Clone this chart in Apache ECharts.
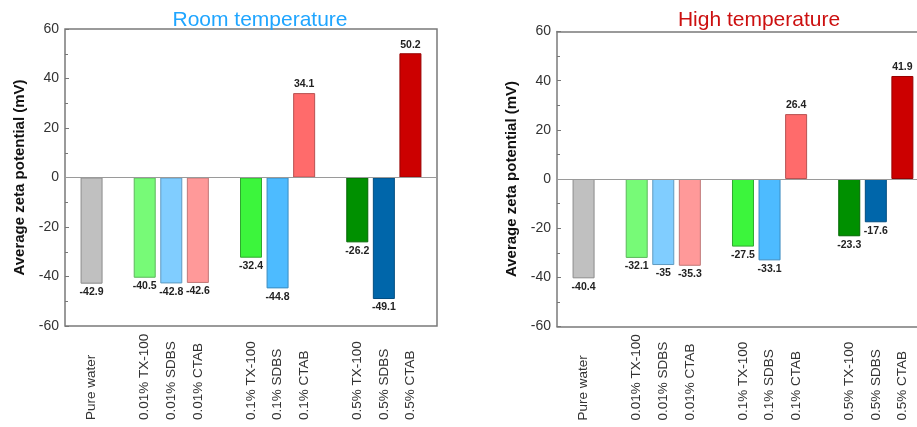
<!DOCTYPE html>
<html>
<head>
<meta charset="utf-8">
<script src="https://cdn.jsdelivr.net/npm/echarts@6/dist/echarts.min.js"></script>
<style>
html,body{margin:0;padding:0;background:#fff;}
#chart{width:917px;height:427px;}
</style>
</head>
<body>
<div id="chart"></div>
<script>
// ---- data ----
const categories = ['Pure water', '0.01% TX-100', '0.01% SDBS', '0.01% CTAB',
  '0.1% TX-100', '0.1% SDBS', '0.1% CTAB', '0.5% TX-100', '0.5% SDBS', '0.5% CTAB'];
// slot index of each category on the x axis (blank slots separate the groups)
const categorySlots = [0, 2, 3, 4, 6, 7, 8, 10, 11, 12];
const roomValues = [-42.9, -40.5, -42.8, -42.6, -32.4, -44.8, 34.1, -26.2, -49.1, 50.2];
const highValues = [-40.4, -32.1, -35, -35.3, -27.5, -33.1, 26.4, -23.3, -17.6, 41.9];
const yTicks = [-60, -40, -20, 0, 20, 40, 60];
const titles = ['Room temperature', 'High temperature'];
const yName = 'Average zeta potential (mV)';

// ---- styles ----
const barColors = ['#c0c0c0', '#77fa77', '#80cdff', '#ff9999', '#3cf53c', '#4dbbff', '#ff6b6b', '#009000', '#0066aa', '#cc0000'];
const barBorders = ['#8c8c8c', '#5cb85c', '#5f9ac0', '#c07878', '#2fa82f', '#3a8cc0', '#b85252', '#006600', '#004d80', '#990000'];
const titleColors = ['#1fa5ff', '#cc1010'];
const FONT = 'Liberation Sans, Arial, sans-serif';
const FRAME = '#7a7a7a';

function buildData(values) {
  return categories.map(function (c, i) {
    const v = values[i];
    return {
      value: [categorySlots[i], v],
      itemStyle: { color: barColors[i], borderColor: barBorders[i], borderWidth: 1 },
      label: { position: v >= 0 ? 'top' : 'bottom' }
    };
  });
}
function slotLabel(v) {
  const i = categorySlots.indexOf(v);
  return i >= 0 ? categories[i] : '';
}

const grids = [
  { left: 65, top: 29, width: 372, height: 297, show: true, borderColor: FRAME, borderWidth: 1.5 },
  { left: 557, top: 31.5, right: 0, height: 295, show: false }
];
const xMax = [13, 12.55];
const titleX = [255, 754];

const xAxes = [];
[0, 1].forEach(function (k) {
  xAxes.push({
    type: 'value', gridIndex: k, min: -1, max: xMax[k], interval: 1,
    axisLine: { show: k === 1, onZero: false, lineStyle: { color: FRAME, width: 1.5 } },
    axisTick: { show: false },
    axisLabel: {
      interval: 0, rotate: 90, align: 'left', margin: 94,
      color: '#333', fontSize: 13.5, fontFamily: FONT,
      showMinLabel: true, showMaxLabel: true,
      formatter: function (v) { return slotLabel(v); }
    },
    splitLine: { show: false }
  });
});
// top frame line of the right panel
xAxes.push({
  type: 'value', gridIndex: 1, position: 'top', min: -1, max: xMax[1],
  axisLine: { show: true, onZero: false, lineStyle: { color: FRAME, width: 1.5 } },
  axisTick: { show: false }, axisLabel: { show: false }, splitLine: { show: false }
});

const option = {
  animation: false,
  title: titles.map(function (t, k) {
    return {
      text: t, left: titleX[k], top: 5, textAlign: 'center',
      textStyle: { color: titleColors[k], fontSize: 21, fontWeight: 'normal', fontFamily: FONT }
    };
  }),
  grid: grids,
  xAxis: xAxes,
  yAxis: [0, 1].map(function (k) {
    return {
      type: 'value', gridIndex: k, min: yTicks[0], max: yTicks[yTicks.length - 1], interval: 20,
      position: 'left',
      name: yName, nameLocation: 'middle', nameGap: 38,
      nameTextStyle: { fontSize: 15, fontWeight: 'bold', color: '#111', fontFamily: FONT },
      axisLine: { show: k === 1, onZero: false, lineStyle: { color: FRAME, width: 1.5 } },
      axisTick: { show: true, inside: true, length: 4, lineStyle: { color: '#777' } },
      minorTick: { show: true, splitNumber: 2, length: 3, lineStyle: { color: '#777' } },
      axisLabel: { color: '#333', fontSize: 14, margin: 6, fontFamily: FONT },
      splitLine: { show: false }
    };
  }),
  series: [roomValues, highValues].map(function (vals, k) {
    return {
      type: 'bar', xAxisIndex: k, yAxisIndex: k, barWidth: 22,
      data: buildData(vals),
      label: {
        show: true, distance: 3, color: '#222', fontSize: 10.5, fontWeight: 'bold', fontFamily: FONT,
        formatter: function (p) { return String(p.value[1]); }
      },
      markLine: {
        silent: true, symbol: 'none', label: { show: false },
        lineStyle: { color: '#9a9a9a', width: 1, type: 'solid' },
        data: [{ yAxis: 0 }]
      }
    };
  })
};

const chart = echarts.init(document.getElementById('chart'), null, { renderer: 'canvas' });
chart.setOption(option);
</script>
</body>
</html>
